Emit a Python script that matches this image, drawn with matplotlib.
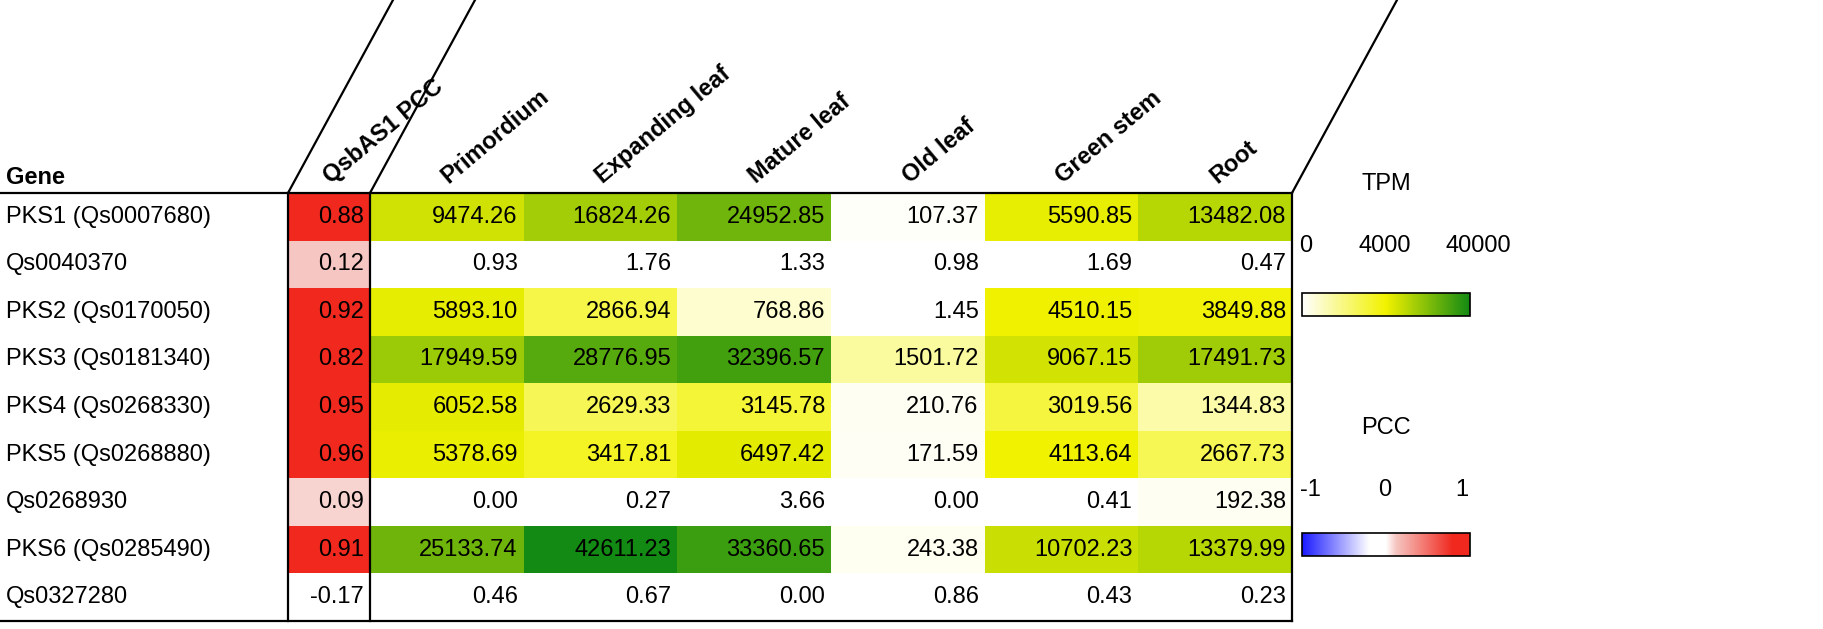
import numpy as np
import matplotlib
matplotlib.use("Agg")
import matplotlib.pyplot as plt
from matplotlib.colors import LinearSegmentedColormap, Normalize
from matplotlib.patches import Rectangle

plt.rcParams['font.family'] = ['Liberation Sans', 'DejaVu Sans']

genes = ["PKS1 (Qs0007680)", "Qs0040370", "PKS2 (Qs0170050)", "PKS3 (Qs0181340)",
         "PKS4 (Qs0268330)", "PKS5 (Qs0268880)", "Qs0268930", "PKS6 (Qs0285490)", "Qs0327280"]
pcc = [0.88, 0.12, 0.92, 0.82, 0.95, 0.96, 0.09, 0.91, -0.17]
tissues = ["Primordium", "Expanding leaf", "Mature leaf", "Old leaf", "Green stem", "Root"]
tpm = [
    [9474.26, 16824.26, 24952.85, 107.37, 5590.85, 13482.08],
    [0.93, 1.76, 1.33, 0.98, 1.69, 0.47],
    [5893.10, 2866.94, 768.86, 1.45, 4510.15, 3849.88],
    [17949.59, 28776.95, 32396.57, 1501.72, 9067.15, 17491.73],
    [6052.58, 2629.33, 3145.78, 210.76, 3019.56, 1344.83],
    [5378.69, 3417.81, 6497.42, 171.59, 4113.64, 2667.73],
    [0.00, 0.27, 3.66, 0.00, 0.41, 192.38],
    [25133.74, 42611.23, 33360.65, 243.38, 10702.23, 13379.99],
    [0.46, 0.67, 0.00, 0.86, 0.43, 0.23],
]
tpm_ticks = [0, 4000, 40000]
pcc_ticks = [-1, 0, 1]

tpm_cmap = LinearSegmentedColormap.from_list(
    "tpm", [(0, "#ffffff"), (0.5, "#f2f200"), (1.0, "#138a13")])
def tpm_scale(v):
    v = np.asarray(v, float)
    return np.where(v <= 4000, 0.5 * v / 4000, 0.5 + 0.5 * (v - 4000) / 36000)
pcc_cmap = LinearSegmentedColormap.from_list(
    "pcc", [(0, "#1a1aff"), (0.4, "#ffffff"), (0.5, "#ffffff"), (0.56, "#f6c6c2"),
            (0.9, "#f0281e"), (1.0, "#f0281e")])

W, H = 1824, 629
fig = plt.figure(figsize=(W / 100, H / 100), dpi=100)
ax = fig.add_axes([0, 0, 1, 1])
ax.set_xlim(0, W); ax.set_ylim(H, 0); ax.axis('off')

x_pcc, x_t0, x_t1 = 288, 370, 1292
y0, y1 = 193, 621
n = len(genes)
yedges = np.linspace(y0, y1, n + 1)
tx = np.linspace(x_t0, x_t1, len(tissues) + 1)

ax.pcolormesh([x_pcc, x_t0], yedges, np.array(pcc)[:, None], cmap=pcc_cmap,
              norm=Normalize(-1, 1), shading='flat')
ax.pcolormesh(tx, yedges, tpm_scale(tpm), cmap=tpm_cmap, norm=Normalize(0, 1), shading='flat')

fs = 17
for i in range(n):
    yc = (yedges[i] + yedges[i + 1]) / 2
    ax.text(6, yc, genes[i], va='center', ha='left', fontsize=fs)
    ax.text(x_t0 - 6, yc, f"{pcc[i]:.2f}", va='center', ha='right', fontsize=fs)
    for j in range(len(tissues)):
        ax.text(tx[j + 1] - 6, yc, f"{tpm[i][j]:.2f}", va='center', ha='right', fontsize=fs)

ax.text(6, 178, "Gene", fontsize=fs, fontweight='bold', va='center')

lw = 1.6
ax.plot([0, x_t1], [y0, y0], color='k', lw=lw)
ax.plot([0, x_t1], [y1, y1], color='k', lw=lw)
for x in [x_pcc, x_t0, x_t1]:
    ax.plot([x, x], [y0, y1], color='k', lw=lw)
dx = 105
for x in [x_pcc, x_t0, x_t1]:
    ax.plot([x, x + dx], [y0, 0], color='k', lw=lw)

headers = ["QsbAS1 PCC"] + tissues
hx = [(x_pcc + x_t0) / 2] + list((tx[:-1] + tx[1:]) / 2)
for h, x in zip(headers, hx):
    ax.text(x + 2, 184, h, rotation=40, rotation_mode='anchor', ha='left', va='baseline',
            fontsize=fs, fontweight='bold')

cb_x0, cb_x1 = 1302, 1470
def colorbar(ytop, cmap, vals_pos, labels, title, ty, tky):
    grad = np.linspace(0, 1, 256)[None, :]
    ax.imshow(grad, cmap=cmap, aspect='auto', extent=[cb_x0, cb_x1, ytop + 23, ytop],
              interpolation='bilinear', zorder=2)
    ax.add_patch(Rectangle((cb_x0, ytop), cb_x1 - cb_x0, 23, fill=False, ec='k', lw=1.2, zorder=3))
    ax.text((cb_x0 + cb_x1) / 2, ty, title, ha='center', va='center', fontsize=fs)
    for p, l in zip(vals_pos, labels):
        ax.text(p, tky, l, ha='center', va='center', fontsize=fs)

colorbar(293, tpm_cmap, [1306, 1385, 1478], [str(t) for t in tpm_ticks], "TPM", 184, 246)
colorbar(533, pcc_cmap, [1310, 1385, 1462], [str(t) for t in pcc_ticks], "PCC", 428, 490)
ax.set_xlim(0, W); ax.set_ylim(H, 0)

fig.savefig("out.png", dpi=100)
